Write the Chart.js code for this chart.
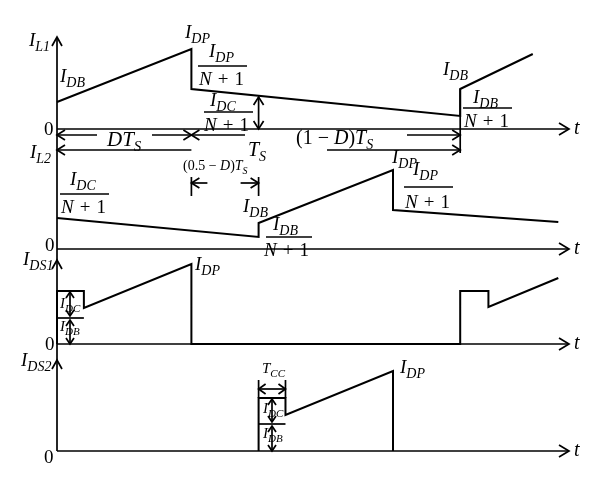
<!DOCTYPE html>
<html>
<head>
<meta charset="utf-8">
<script src="https://cdn.jsdelivr.net/npm/chart.js@4.4.0/dist/chart.umd.min.js"></script>
<style>
  html, body { margin: 0; padding: 0; background: #fff; }
</style>
</head>
<body>
<canvas id="chart" width="600" height="490"></canvas>
<script>
// time in units where Ts = 6 (D = 1/3, Tcc = 0.4), currents in arbitrary units
const tL1 = [0, 2, 2, 6, 6, 7.08];
const iL1 = [2.7, 8.0, 4.0, 1.3, 4.0, 7.5];

const tL2 = [0, 3, 3, 5, 5, 7.46];
const iL2 = [3.1, 1.2, 2.6, 7.9, 3.9, 2.7];

const tDS1 = [0, 0, 0.4, 0.4, 2, 2, 6, 6, 6.42, 6.42, 7.46];
const iDS1 = [0, 5.3, 5.3, 3.6, 8.0, 0, 0, 5.3, 5.3, 3.7, 6.6];

const tDS2 = [3, 3, 3.4, 3.4, 5, 5];
const iDS2 = [0, 5.3, 5.3, 3.6, 8.0, 0];

const panelNames = [['I', 'L1'], ['I', 'L2'], ['I', 'DS1'], ['I', 'DS2']];

// layout
const W = 600, H = 490;
const originX = 57, pxPerT = 67.2, pxPerI = 10;
const zeroY = [129, 249, 344, 451];
const axisEnd = 569;

function pts(ts, vs) { return ts.map((t, i) => ({ x: t, y: vs[i] })); }

const series = [pts(tL1, iL1), pts(tL2, iL2), pts(tDS1, iDS1), pts(tDS2, iDS2)];
const datasets = series.map((d, i) => ({ data: d, yAxisID: 'y' + i }));

const scales = { x: { type: 'linear', display: false, min: -originX / pxPerT, max: (W - originX) / pxPerT } };
zeroY.forEach((z, i) => {
  scales['y' + i] = { type: 'linear', display: false, min: (z - H) / pxPerI, max: z / pxPerI };
});

const SERIF = '"Liberation Serif", "DejaVu Serif", serif';

// annotations: axes, arrows, labels
const diagram = {
  id: 'diagram',
  afterDatasetsDraw(chart) {
    const ctx = chart.ctx;
    const xs = chart.scales.x;
    const X0 = xs.getPixelForValue(0);
    const Y = i => chart.scales['y' + i].getPixelForValue(0);
    ctx.save();
    ctx.strokeStyle = '#000';
    ctx.fillStyle = '#000';
    ctx.lineWidth = 1.7;
    ctx.textBaseline = 'alphabetic';

    function seg(x1, y1, x2, y2) {
      ctx.beginPath(); ctx.moveTo(x1, y1); ctx.lineTo(x2, y2); ctx.stroke();
    }
    function head(x, y, dir, len, w) {
      len = len || 8; w = w || 5;
      ctx.beginPath();
      if (dir === 'r' || dir === 'l') {
        const s = dir === 'r' ? -1 : 1;
        ctx.moveTo(x + s * len, y - w); ctx.lineTo(x, y); ctx.lineTo(x + s * len, y + w);
      } else {
        const s = dir === 'u' ? 1 : -1;
        ctx.moveTo(x - w, y + s * len); ctx.lineTo(x, y); ctx.lineTo(x + w, y + s * len);
      }
      ctx.stroke();
    }
    function vArrow(x, y1, y2, len, w) {
      seg(x, y1, x, y2); head(x, y1, 'u', len, w); head(x, y2, 'd', len, w);
    }
    function rich(x, y, runs) {
      runs.forEach(r => {
        const size = r.size || 19;
        ctx.font = (r.it ? 'italic ' : '') + size + 'px ' + SERIF;
        ctx.fillText(r.t, x, y + (r.dy || 0));
        x += ctx.measureText(r.t).width + (r.gap || 0);
      });
      return x;
    }
    function sym(main, sub, x, y, size) {
      size = size || 19;
      return rich(x, y, [{ t: main, it: true, size: size },
                         { t: sub, it: true, size: Math.round(size * 0.72), dy: size * 0.24 }]);
    }
    function nPlus1(x, y) {
      rich(x, y, [{ t: 'N', it: true, gap: 6 }, { t: '+', gap: 6 }, { t: '1' }]);
    }
    function frac(sub, xNum, yNum, x1, x2, yLine, xDen, yDen) {
      sym('I', sub, xNum, yNum);
      ctx.lineWidth = 1.3; seg(x1, yLine, x2, yLine); ctx.lineWidth = 1.7;
      nPlus1(xDen, yDen);
    }

    // axes
    seg(X0, 37, X0, Y(3));
    head(X0, 37, 'u', 9, 5);
    head(X0, 260, 'u', 9, 5);
    head(X0, 360, 'u', 9, 5);
    zeroY.forEach((z, i) => {
      const y = Y(i);
      seg(X0, y, axisEnd, y);
      head(axisEnd, y, 'r', 10, 6);
      rich(574, y + 5, [{ t: 't', it: true, size: 20 }]);
    });
    const zeroLab = [[44, 135], [45, 251], [45, 350], [44, 463]];
    zeroLab.forEach(p => rich(p[0], p[1], [{ t: '0', size: 19 }]));
    const nameAt = [[29, 46], [30, 158], [23, 265], [21, 366]];
    panelNames.forEach((n, i) => sym(n[0], n[1], nameAt[i][0], nameAt[i][1]));

    // panel 1 labels
    sym('I', 'DP', 185, 38);
    sym('I', 'DB', 60, 82);
    frac('DP', 209, 57, 198, 247, 66, 199, 85);
    frac('DC', 210, 106, 204, 253, 112, 204, 131);
    sym('I', 'DB', 443, 75);
    frac('DB', 473, 103, 463, 512, 108, 464, 127);

    // timing arrows under panel 1
    const xD = xs.getPixelForValue(2), xH = xs.getPixelForValue(3), xT = xs.getPixelForValue(6);
    seg(X0, 135, 97, 135); seg(152, 135, xD, 135);
    head(X0, 135, 'l'); head(xD, 135, 'r');
    rich(107, 146, [{ t: 'DT', it: true, size: 21 }, { t: 'S', it: true, size: 15, dy: 5 }]);
    seg(xD, 135, 245, 135); seg(407, 135, xT, 135);
    head(xD, 135, 'l'); head(xT, 135, 'r');
    rich(296, 144, [{ t: '(1 \u2212 ', size: 20 }, { t: 'D', it: true, size: 20 }, { t: ')', size: 20 },
                    { t: 'T', it: true, size: 20 }, { t: 'S', it: true, size: 14, dy: 5 }]);
    seg(X0, 150, xD, 150); seg(327, 150, xT, 150);
    head(X0, 150, 'l'); head(xT, 150, 'r');
    seg(xT, 89, xT, 153);
    rich(248, 156, [{ t: 'T', it: true, size: 20 }, { t: 'S', it: true, size: 14, dy: 5 }]);
    vArrow(xH, 97, Y(0), 8, 5);

    // (0.5 - D)Ts bracket
    rich(183, 170, [{ t: '(0.5 \u2212 ', size: 14 }, { t: 'D', it: true, size: 14 }, { t: ')', size: 14 },
                    { t: 'T', it: true, size: 14 }, { t: 'S', it: true, size: 10, dy: 4 }]);
    seg(xD, 177, xD, 196); seg(xH, 177, xH, 196);
    seg(xD, 183, xD + 16, 183); head(xD, 183, 'l');
    seg(xH - 18, 183, xH, 183); head(xH, 183, 'r');

    // panel 2 labels
    frac('DC', 70, 185, 60, 109, 194, 61, 213);
    sym('I', 'DB', 243, 212);
    frac('DB', 273, 230, 266, 312, 237, 264, 256);
    sym('I', 'DP', 392, 163);
    frac('DP', 413, 175, 404, 453, 187, 405, 208);

    // panel 3 details
    const xC1 = xs.getPixelForValue(0.4);
    seg(X0, 318, xC1, 318);
    vArrow(70, 292, 316, 6, 4);
    vArrow(70, 320, Y(2), 6, 4);
    sym('I', 'DC', 60, 308, 15);
    sym('I', 'DB', 60, 331, 15);
    sym('I', 'DP', 195, 270);

    // panel 4 details
    const xC2 = xs.getPixelForValue(3.4);
    seg(xH, 380, xH, 398); seg(xC2, 380, xC2, 398);
    seg(xH, 389, xC2, 389); head(xH, 389, 'l', 7, 5); head(xC2, 389, 'r', 7, 5);
    sym('T', 'CC', 262, 373, 15);
    seg(xH, 424, xC2, 424);
    vArrow(272, 399, 422, 6, 4);
    vArrow(272, 426, Y(3), 6, 4);
    sym('I', 'DC', 263, 413, 15);
    sym('I', 'DB', 263, 438, 15);
    sym('I', 'DP', 400, 373);

    ctx.restore();
  }
};

new Chart(document.getElementById('chart'), {
  type: 'line',
  data: { datasets: datasets },
  options: {
    responsive: false,
    animation: false,
    layout: { padding: 0 },
    plugins: { legend: { display: false }, tooltip: { enabled: false } },
    elements: {
      point: { radius: 0 },
      line: { borderColor: '#000', borderWidth: 2, tension: 0, fill: false }
    },
    scales: scales
  },
  plugins: [diagram]
});
</script>
</body>
</html>
